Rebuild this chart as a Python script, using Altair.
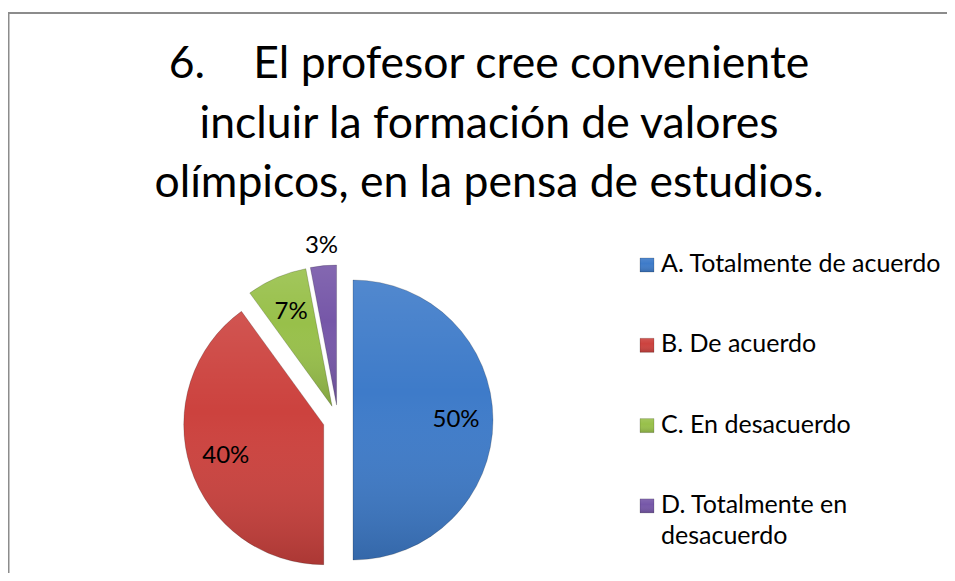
import altair as alt
import pandas as pd

# ---------------- data ----------------
title_lines = [
    "6.\u2003\u2004El profesor cree conveniente",
    "incluir la formación de valores",
    "olímpicos, en la pensa de estudios.",
]
categories = [
    "A. Totalmente de acuerdo",
    "B. De acuerdo",
    "C. En desacuerdo",
    "D. Totalmente en desacuerdo",
]
legend_labels = [
    "A. Totalmente de acuerdo",
    "B. De acuerdo",
    "C. En desacuerdo",
    "D. Totalmente en\ndesacuerdo",
]
values = [50, 40, 7, 3]
pct_labels = ["50%", "40%", "7%", "3%"]
colors = ["#3e7bc9", "#cc423e", "#98c04a", "#7657a8"]

df = pd.DataFrame({
    "cat": categories,
    "legend": legend_labels,
    "value": values,
    "label": pct_labels,
    "order": list(range(len(categories))),
})
title_df = pd.DataFrame({"title": ["\n".join(title_lines)]})

# ---------------- layout constants ----------------
CX, CY, R, EXPLODE = 330, 412, 140, 15
FONT = "Lato"

GRAD = {
    "gradient": "linear", "x1": 0, "y1": 0, "x2": 0, "y2": 1,
    "stops": [
        {"offset": 0, "color": "rgba(255,255,255,0.10)"},
        {"offset": 0.4, "color": "rgba(255,255,255,0.0)"},
        {"offset": 1, "color": "rgba(0,0,0,0.16)"},
    ],
}

color_enc = alt.Color(
    "cat:N", scale=alt.Scale(domain=categories, range=colors), legend=None
)

base = (
    alt.Chart(df)
    .transform_joinaggregate(total="sum(value)")
    .transform_window(cum="sum(value)", sort=[alt.SortField("order")], frame=[None, 0])
    .transform_calculate(
        t0="2*PI*(datum.cum - datum.value)/datum.total",
        t1="2*PI*datum.cum/datum.total",
    )
    .transform_calculate(mid="(datum.t0 + datum.t1)/2")
    .transform_calculate(
        cx=f"{CX} + {EXPLODE}*sin(datum.mid)",
        cy=f"{CY} - {EXPLODE}*cos(datum.mid)",
        lr="datum.value < 5 ? 160 : 103",
        legy="257 + datum.order*80.3",
    )
    .transform_calculate(
        lx="datum.cx + datum.lr*sin(datum.mid)",
        ly="datum.cy - datum.lr*cos(datum.mid)",
        legty="datum.legy + 7",
    )
)

pos = dict(
    x=alt.X("cx:Q", scale=None, axis=None),
    y=alt.Y("cy:Q", scale=None, axis=None),
    theta=alt.Theta("t0:Q", scale=None, stack=None),
    theta2="t1:Q",
)

border = alt.Chart(title_df).mark_rect(
    fill="white", stroke="#8c8c8c", strokeWidth=2
).encode(
    x=alt.value(0.5), x2=alt.value(1400), y=alt.value(5), y2=alt.value(1400)
)

title = alt.Chart(title_df).mark_text(
    font=FONT, fontSize=44.5, align="center", baseline="alphabetic",
    lineBreak="\n", lineHeight=59.5, color="#000000",
).encode(x=alt.value(481), y=alt.value(70), text="title:N")

arcs = base.mark_arc(radius=R).encode(color=color_enc, **pos)
arcs_shade = base.mark_arc(
    radius=R, fill=GRAD, stroke="rgba(0,0,0,0.18)", strokeWidth=1
).encode(**pos)

labels = base.mark_text(
    font=FONT, fontSize=24, color="#000000", align="center", baseline="middle"
).encode(
    x=alt.X("lx:Q", scale=None, axis=None),
    y=alt.Y("ly:Q", scale=None, axis=None),
    text="label:N",
)

leg_sq = base.mark_square(size=196, opacity=1).encode(
    x=alt.value(639), y=alt.Y("legy:Q", scale=None, axis=None), color=color_enc
)
leg_sq_shade = base.mark_square(
    size=196, fill=GRAD, opacity=1, stroke="rgba(0,0,0,0.2)", strokeWidth=0.8
).encode(
    x=alt.value(639), y=alt.Y("legy:Q", scale=None, axis=None)
)
leg_txt = base.mark_text(
    font=FONT, fontSize=25, color="#000000", align="left", baseline="alphabetic",
    lineBreak="\n", lineHeight=31,
).encode(
    x=alt.value(653), y=alt.Y("legty:Q", scale=None, axis=None), text="legend:N"
)

chart = (
    alt.layer(border, title, arcs, arcs_shade, labels, leg_sq, leg_sq_shade, leg_txt)
    .properties(width=939, height=565, autosize="none", padding=0, background="white")
    .configure_view(stroke="transparent")
)

chart.save("out.html", embed_options={"renderer": "svg", "actions": False})
